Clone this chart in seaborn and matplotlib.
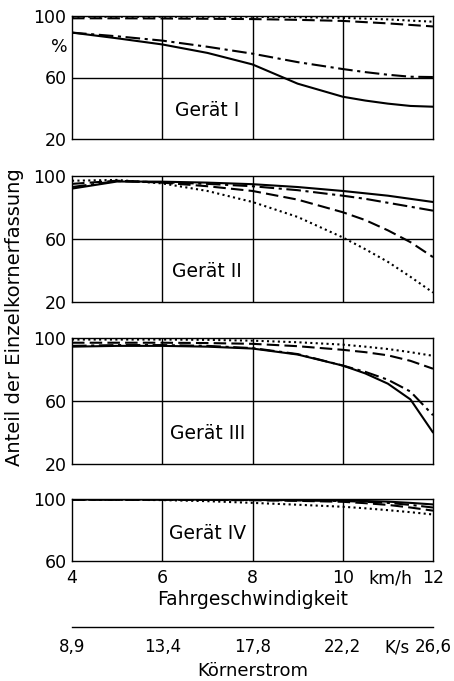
import matplotlib
matplotlib.use('Agg')
import pandas as pd
import matplotlib.pyplot as plt
import seaborn as sns

# Fahrgeschwindigkeit in km/h
speed = [4, 5, 6, 7, 8, 9, 10, 10.5, 11, 11.5, 12]
speed_ticks = [4, 6, 8, 10, 12]
speed_labels = ['4', '6', '8', '10', '12']
# Körnerstrom in K/s at the same positions
korner_labels = ['8,9', '13,4', '17,8', '22,2', '26,6']

curves = ['solid', 'dashdot', 'dashed', 'dotted']

# Gerät I
g1_solid   = [89.2, 85.5, 81.5, 76.0, 68.5, 56.0, 47.5, 45.0, 43.0, 41.5, 41.0]
g1_dashdot = [89.2, 86.8, 84.0, 80.0, 75.5, 70.0, 65.5, 63.5, 61.8, 60.5, 60.3]
g1_dashed  = [98.5, 98.5, 98.4, 98.2, 98.0, 97.5, 96.8, 96.0, 95.2, 94.2, 93.2]
g1_dotted  = [99.5, 99.5, 99.5, 99.5, 99.5, 99.2, 98.8, 98.3, 97.8, 97.0, 96.3]

# Gerät II
g2_solid   = [92.0, 96.5, 96.4, 95.8, 94.8, 93.0, 90.5, 89.0, 87.5, 85.5, 83.5]
g2_dashdot = [93.0, 96.8, 96.0, 95.0, 93.5, 91.0, 87.5, 85.5, 83.0, 80.5, 78.0]
g2_dashed  = [95.0, 97.0, 95.8, 93.5, 90.5, 85.0, 77.0, 72.0, 65.5, 58.0, 48.5]
g2_dotted  = [97.0, 97.5, 95.3, 90.5, 83.5, 74.0, 61.0, 53.5, 45.5, 36.0, 26.0]

# Gerät III
g3_solid   = [94.5, 95.0, 95.0, 94.5, 93.3, 89.5, 82.5, 77.5, 71.0, 61.0, 40.0]
g3_dashdot = [95.0, 95.5, 95.5, 95.0, 93.6, 89.8, 82.5, 78.5, 73.5, 66.0, 51.0]
g3_dashed  = [97.0, 97.0, 97.0, 96.8, 96.3, 94.8, 92.5, 91.0, 89.0, 85.5, 80.5]
g3_dotted  = [99.0, 99.0, 99.0, 98.8, 98.3, 97.3, 95.8, 94.5, 93.0, 91.0, 88.7]

# Gerät IV
g4_solid   = [99.7, 99.7, 99.7, 99.6, 99.5, 99.3, 99.0, 98.7, 98.3, 97.5, 96.5]
g4_dashdot = [99.6, 99.6, 99.6, 99.5, 99.4, 99.1, 98.7, 98.2, 97.5, 96.2, 94.5]
g4_dashed  = [99.5, 99.5, 99.5, 99.4, 99.2, 98.8, 98.2, 97.3, 96.2, 94.5, 92.5]
g4_dotted  = [99.6, 99.5, 99.3, 98.6, 97.5, 96.3, 95.0, 94.0, 92.8, 91.5, 90.0]

panels = [
    ('Gerät I',   [g1_solid, g1_dashdot, g1_dashed, g1_dotted], 20, 38.5),
    ('Gerät II',  [g2_solid, g2_dashdot, g2_dashed, g2_dotted], 20, 39.5),
    ('Gerät III', [g3_solid, g3_dashdot, g3_dashed, g3_dotted], 20, 39.5),
    ('Gerät IV',  [g4_solid, g4_dashdot, g4_dashed, g4_dotted], 60, 78.0),
]

sns.set_style('white')
plt.rcParams['font.family'] = ['DejaVu Sans']
plt.rcParams['font.size'] = 12.5
for k in ['text.color', 'axes.labelcolor', 'xtick.color', 'ytick.color']:
    plt.rcParams[k] = 'black'

fig = plt.figure(figsize=(4.54, 6.81), dpi=100)
W, H = 454, 681
left, right = 72, 433
boxes = [(16, 139), (176, 302), (338, 464), (499, 561)]

dash_map = {'solid': '', 'dashdot': (7, 2.2, 1.5, 2.2),
            'dashed': (6, 2.5), 'dotted': (1, 1.6)}

axes = []
for (title, series, ymin, ty), (top, bot) in zip(panels, boxes):
    ax = fig.add_axes([left / W, 1 - bot / H, (right - left) / W, (bot - top) / H])
    axes.append(ax)
    df = pd.DataFrame({
        'speed': speed * 4,
        'value': sum(series, []),
        'curve': [c for c in curves for _ in speed],
    })
    sns.lineplot(data=df, x='speed', y='value', style='curve', dashes=dash_map,
                 color='black', linewidth=1.5, legend=False, ax=ax)
    ax.set_xlim(4, 12)
    ax.set_ylim(ymin, 100)
    for v in [6, 8, 10]:
        ax.axvline(v, color='black', lw=1.0, zorder=0)
    if ymin == 20:
        ax.axhline(60, color='black', lw=1.0, zorder=0)
        ax.set_yticks([20, 60, 100])
        ax.set_yticks([40, 80], minor=True)
    else:
        ax.set_yticks([60, 100])
        ax.set_yticks([80], minor=True)
    ax.tick_params(axis='y', which='major', length=0, pad=4, labelsize=12.5)
    ax.tick_params(axis='y', which='minor', direction='in', length=6, width=1.0)
    ax.set_xticks(speed_ticks)
    ax.tick_params(axis='x', length=0, labelbottom=False)
    ax.set_xlabel('')
    ax.set_ylabel('')
    for s in ax.spines.values():
        s.set_color('black')
        s.set_linewidth(1.0)
    ax.text(7.0, ty, title, ha='center', va='center', fontsize=13.5)

axes[0].text(-0.012, 80, '%', transform=axes[0].get_yaxis_transform(),
             ha='right', va='center', fontsize=12.5)

ax4 = axes[-1]
ax4.tick_params(axis='x', labelbottom=True, pad=6, labelsize=12.5)
ax4.set_xticklabels(speed_labels)
ax4.annotate('km/h', xy=(11.05, 0), xycoords=ax4.get_xaxis_transform(),
             xytext=(0, -6), textcoords='offset points',
             ha='center', va='top', fontsize=12.5)
ax4.set_xlabel('Fahrgeschwindigkeit', fontsize=13.5, labelpad=2)

# second scale: Körnerstrom
axk = fig.add_axes([left / W, 1 - 627 / H, (right - left) / W, 0.0001])
axk.set_xlim(4, 12)
axk.set_yticks([])
for s in ['left', 'right', 'top']:
    axk.spines[s].set_visible(False)
axk.spines['bottom'].set_color('black')
axk.spines['bottom'].set_linewidth(1.0)
axk.set_xticks(speed_ticks)
axk.set_xticklabels(korner_labels)
axk.tick_params(axis='x', direction='in', length=7, width=1.0, pad=8, labelsize=12)
axk.annotate('K/s', xy=(11.2, 0), xycoords=axk.get_xaxis_transform(),
             xytext=(0, -8), textcoords='offset points',
             ha='center', va='top', fontsize=12)
axk.set_xlabel('Körnerstrom', fontsize=13, labelpad=4)

fig.text(0.033, 0.534, 'Anteil der Einzelkornerfassung', rotation=90,
         ha='center', va='center', fontsize=14)

fig.savefig('out.png', dpi=100)
